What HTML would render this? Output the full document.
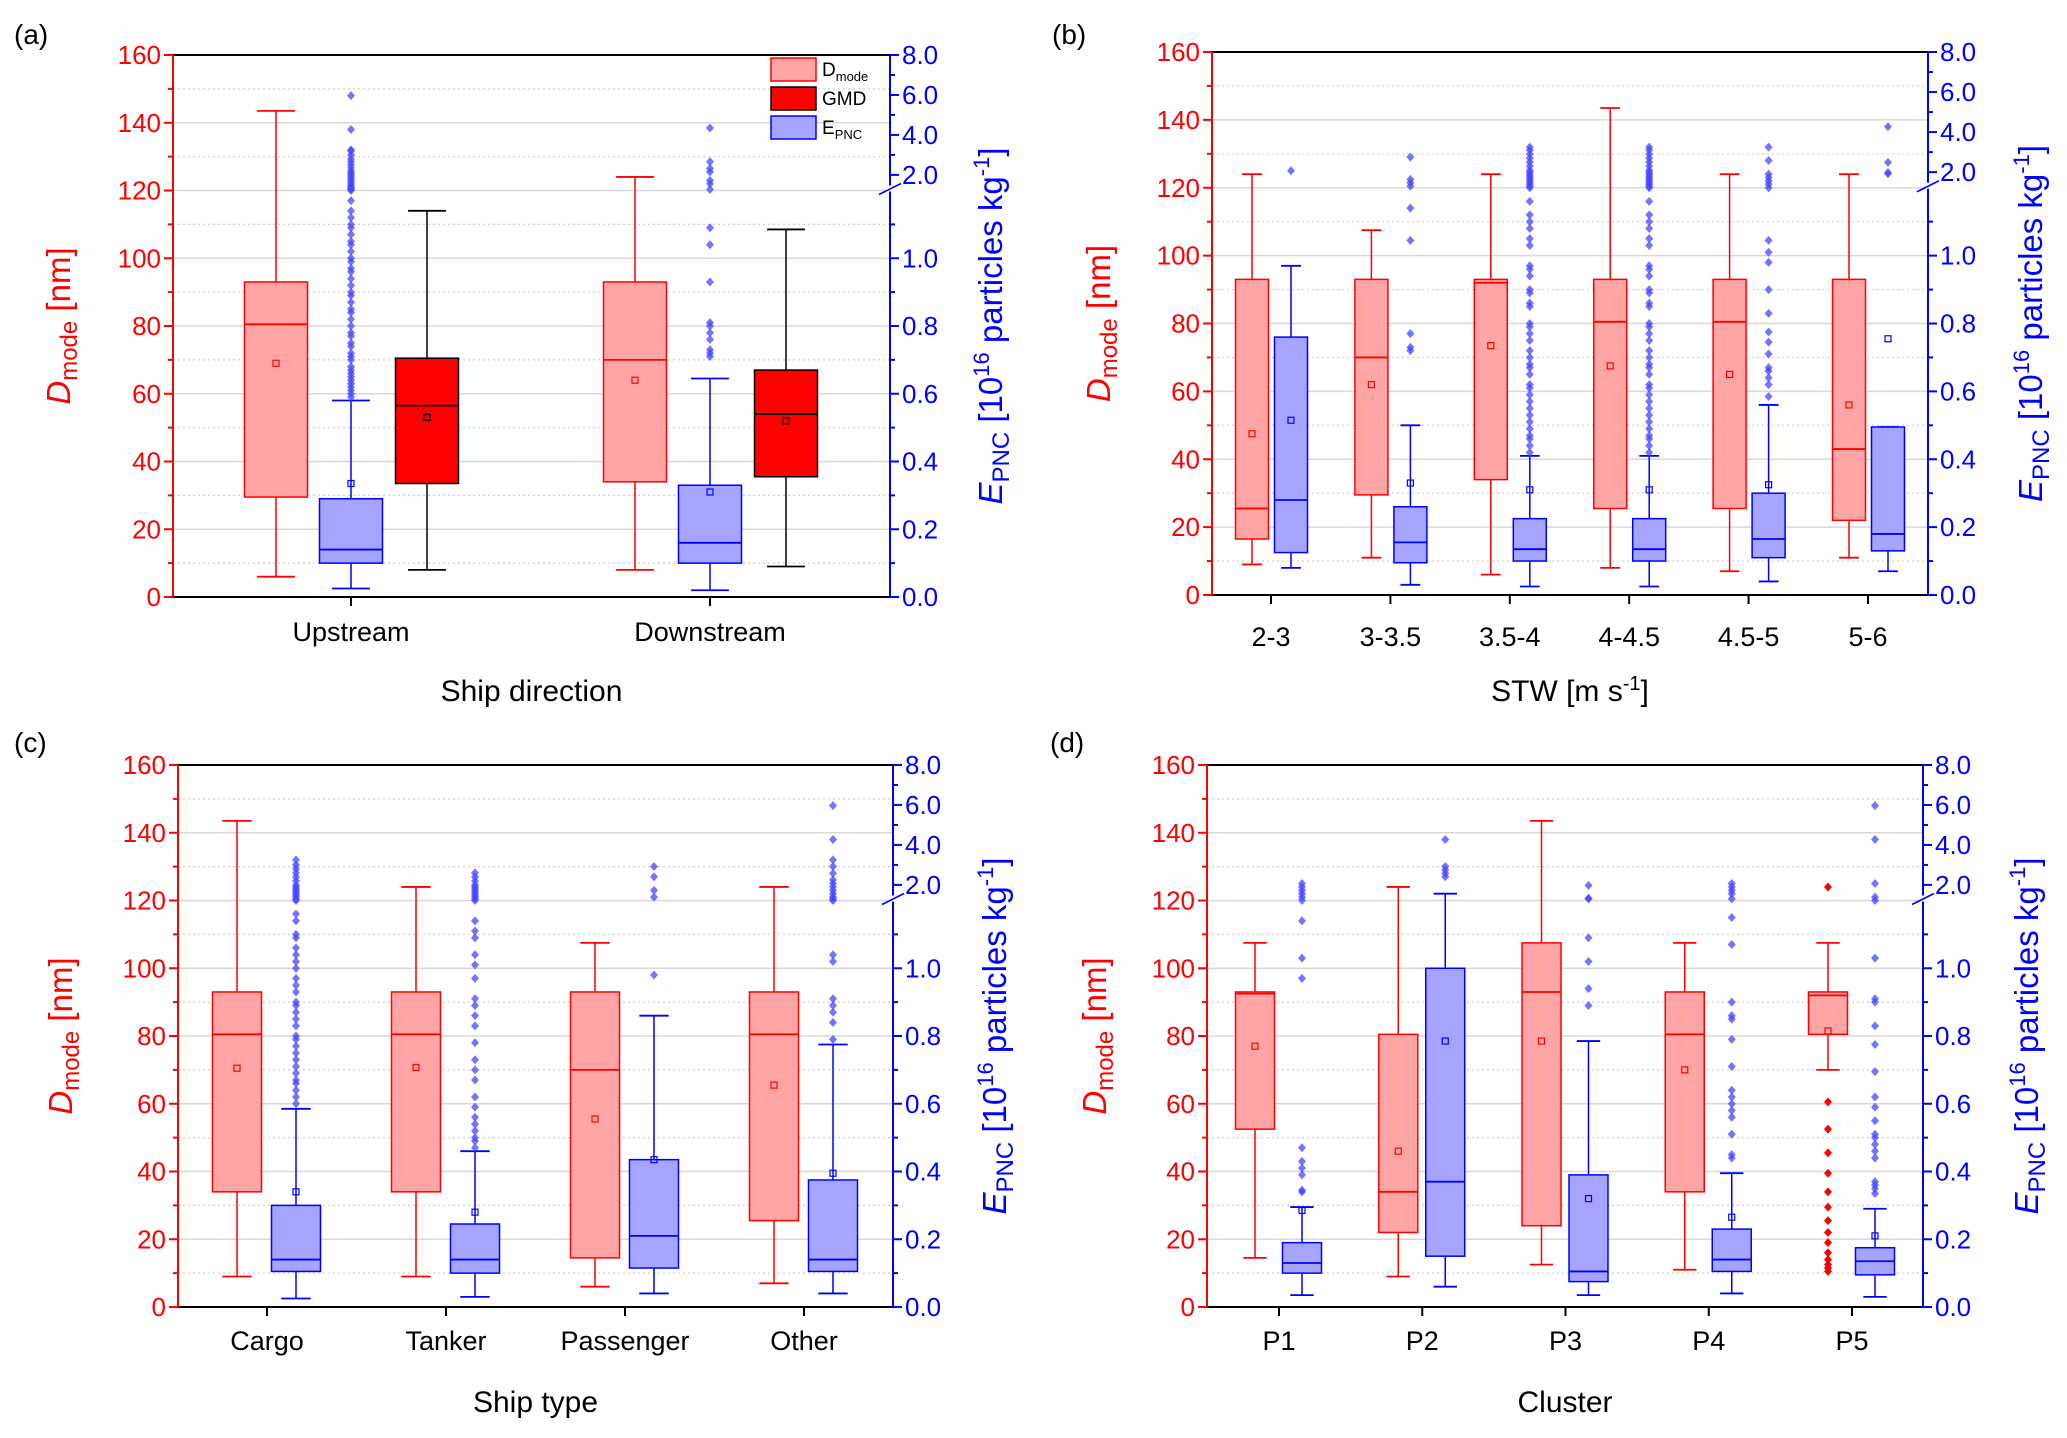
<!DOCTYPE html>
<html><head><meta charset="utf-8">
<style>
html,body{margin:0;padding:0;background:#fff;overflow:hidden;}
svg{display:block;font-family:"Liberation Sans Narrow","Liberation Sans",sans-serif;}
</style></head>
<body>
<svg id="fig" width="2067" height="1438" viewBox="0 0 2067 1438" xmlns="http://www.w3.org/2000/svg"></svg>
<script>
// ---------- DATA ----------
// stats arrays: [lowWhisker, q1, median, q3, highWhisker, mean]
const catsA = ["Upstream","Downstream"];
const dmodeA = [[6,29.5,80.5,93,143.5,69],[8,34,70,93,124,64]];
const gmdA = [[8,33.5,56.5,70.5,114,53],[9,35.5,54,67,108.5,52]];
const epncA = [[0.025,0.10,0.14,0.29,0.58,0.335],[0.02,0.10,0.16,0.33,0.645,0.31]];
const outA = [
 [0.59,0.6,0.61,0.62,0.63,0.64,0.65,0.66,0.67,0.68,0.7,0.71,0.72,0.74,0.75,0.77,0.78,0.8,0.82,0.84,0.85,0.87,0.89,0.9,0.92,0.94,0.96,0.97,0.99,1.0,1.02,1.04,1.05,1.07,1.09,1.1,1.12,1.14,1.17,1.22,1.28,1.35,1.42,1.5,1.6,1.7,1.8,1.9,2.0,2.1,2.2,2.35,2.5,2.65,2.8,3.0,3.2,3.25,4.27,5.97],
 [0.71,0.72,0.73,0.76,0.78,0.80,0.81,0.93,1.04,1.09,1.27,1.56,1.73,2.15,2.32,2.66,4.35]];

const catsB = ["2-3","3-3.5","3.5-4","4-4.5","4.5-5","5-6"];
const dmodeB = [[9,16.5,25.5,93,124,47.5],[11,29.5,70,93,107.5,62],[6,34,92,93,124,73.5],[8,25.5,80.5,93,143.5,67.5],[7,25.5,80.5,93,124,65],[11,22,43,93,124,56]];
const epncB = [[0.08,0.125,0.28,0.76,0.97,0.515],[0.03,0.095,0.155,0.26,0.50,0.33],[0.025,0.10,0.135,0.225,0.41,0.31],[0.025,0.10,0.135,0.225,0.41,0.31],[0.04,0.11,0.165,0.30,0.56,0.325],[0.07,0.13,0.18,0.495,0.495,0.755]];
const denseB = [0.42,0.44,0.46,0.47,0.49,0.51,0.53,0.55,0.57,0.59,0.61,0.62,0.65,0.67,0.68,0.7,0.72,0.75,0.77,0.79,0.8,0.85,0.86,0.89,0.9,0.94,0.96,0.97,1.03,1.05,1.08,1.1,1.12,1.16,1.22,1.3,1.4,1.5,1.6,1.7,1.8,1.9,2.0,2.1,2.3,2.5,2.7,2.9,3.1,3.25];
const outB = [[2.07],[0.72,0.73,0.77,1.045,1.14,1.3,1.47,1.64,2.75],denseB,denseB,[0.585,0.62,0.64,0.66,0.67,0.71,0.745,0.775,0.83,0.90,0.98,1.01,1.045,1.22,1.39,1.56,1.73,1.9,2.58,3.25],[1.92,1.98,2.49,4.27]];

const catsC = ["Cargo","Tanker","Passenger","Other"];
const dmodeC = [[9,34,80.5,93,143.5,70.5],[9,34,80.5,93,124,70.7],[6,14.5,70,93,107.5,55.5],[7,25.5,80.5,93,124,65.5]];
const epncC = [[0.025,0.105,0.14,0.30,0.585,0.34],[0.03,0.10,0.14,0.245,0.46,0.28],[0.04,0.115,0.21,0.435,0.86,0.435],[0.04,0.105,0.14,0.375,0.775,0.395]];
const outC = [
 [0.6,0.62,0.64,0.66,0.67,0.69,0.71,0.73,0.75,0.77,0.79,0.8,0.83,0.85,0.87,0.89,0.9,0.93,0.95,0.97,1.0,1.02,1.04,1.06,1.09,1.1,1.14,1.16,1.22,1.3,1.4,1.5,1.6,1.7,1.8,1.9,2.0,2.2,2.4,2.6,2.8,3.0,3.25],
 [0.47,0.49,0.5,0.52,0.54,0.56,0.59,0.62,0.67,0.7,0.73,0.78,0.83,0.86,0.89,0.91,0.97,1.01,1.04,1.09,1.11,1.14,1.22,1.3,1.4,1.5,1.6,1.7,1.8,1.9,2.0,2.2,2.4,2.6],
 [0.98,1.39,1.73,2.41,2.92],
 [0.79,0.84,0.87,0.89,0.91,1.02,1.04,1.22,1.3,1.4,1.56,1.73,1.9,2.07,2.25,2.58,2.92,3.25,4.27,5.97]];

const catsD = ["P1","P2","P3","P4","P5"];
const dmodeD = [[14.5,52.5,92.5,93,107.5,77],[9,22,34,80.5,124,46],[12.5,24,93,107.5,143.5,78.5],[11,34,80.5,93,107.5,70],[70,80.5,92,93,107.5,81.5]];
const dmodeOutD = [[],[],[],[],[10.5,11.5,12.5,14,16,19,22,25.5,29.5,34,39.5,45.5,52.5,60.5,124]];
const epncD = [[0.035,0.10,0.13,0.19,0.295,0.285],[0.06,0.15,0.37,1.0,1.56,0.785],[0.035,0.075,0.105,0.39,0.785,0.32],[0.04,0.105,0.14,0.23,0.395,0.265],[0.03,0.095,0.135,0.175,0.29,0.21]];
const outD = [
 [0.34,0.345,0.39,0.41,0.43,0.47,0.97,1.03,1.14,1.22,1.39,1.56,1.73,1.9,2.07],
 [2.41,2.58,2.75,2.92,4.27],
 [0.89,0.94,1.02,1.09,1.3,1.33,1.98],
 [0.44,0.45,0.51,0.56,0.58,0.60,0.62,0.64,0.71,0.79,0.85,0.86,0.90,1.07,1.15,1.3,1.56,1.73,1.9,2.07],
 [0.335,0.35,0.36,0.37,0.44,0.46,0.48,0.50,0.51,0.55,0.59,0.62,0.695,0.775,0.83,0.90,0.91,1.03,1.22,1.39,2.07,4.27,5.97]];

// ---------- DRAWING ----------
const NS="http://www.w3.org/2000/svg";
const svg=document.getElementById('fig');
function mk(tag,attrs,parent){const e=document.createElementNS(NS,tag);for(const k in attrs)e.setAttribute(k,attrs[k]);(parent||svg).appendChild(e);return e;}
function dOfE(e){return e<=1.2? e*100 : 124.6+(e-2)*5.9;}

function panel(P){
  const g=mk('g',{});
  
  
  const yD=d=>P.bottom-d*(P.bottom-P.top)/160;
  const n=P.cats.length;
  for(let d=10;d<160;d+=10){
    const major=d%20===0;
    const l=mk('line',{x1:P.left,x2:P.right,y1:yD(d),y2:yD(d),stroke:major?'#d8d8d8':'#cfcfcf','stroke-width':major?1.5:1.2,'stroke-dasharray':major?'none':'2,3'},g);
    
    
  }
  const cx=i=>P.x0+i*P.step;
  function box(stats,xc,w,fill,stroke,medStroke,name){
    const bg=mk('g',{},g);
    
    
    const [lo,q1,md,q3,hi,mn]=stats;
    const cw=w*0.6;
    mk('line',{x1:xc,x2:xc,y1:yD(lo),y2:yD(q1),stroke:stroke,'stroke-width':1.5},bg);
    mk('line',{x1:xc,x2:xc,y1:yD(q3),y2:yD(hi),stroke:stroke,'stroke-width':1.5},bg);
    mk('line',{x1:xc-cw/2,x2:xc+cw/2,y1:yD(lo),y2:yD(lo),stroke:stroke,'stroke-width':1.8},bg);
    mk('line',{x1:xc-cw/2,x2:xc+cw/2,y1:yD(hi),y2:yD(hi),stroke:stroke,'stroke-width':1.8},bg);
    mk('rect',{x:xc-w/2,y:yD(q3),width:w,height:yD(q1)-yD(q3),fill:fill,stroke:stroke,'stroke-width':1.5},bg);
    mk('line',{x1:xc-w/2,x2:xc+w/2,y1:yD(md),y2:yD(md),stroke:medStroke,'stroke-width':1.8},bg);
    mk('rect',{x:xc-3,y:yD(mn)-3,width:6,height:6,fill:'none',stroke:medStroke,'stroke-width':1.2},bg);
  }
  function outs(vals,xc,fill,name){
    vals.forEach(v=>{const y=yD(v);
      const p=mk('path',{d:`M${xc},${y-4.5} L${xc+4},${y} L${xc},${y+4.5} L${xc-4},${y} Z`,fill:fill},g);
      
      });
  }
  for(let i=0;i<n;i++){
    const c=cx(i);
    box(P.dmode[i],c+P.offP,P.w,'#ffa5a5','#ff0000','#ff0000','dmode-box-'+P.cats[i]);
    if(P.dmodeOut) outs(P.dmodeOut[i],c+P.offP,'#ff0000','dmode-outlier');
    const es=P.epnc[i].map(dOfE);
    box(es,c+P.offB,P.w,'#a5a5ff','#0000ff','#0000ff','epnc-box-'+P.cats[i]);
    outs(P.out[i].map(dOfE),c+P.offB,'rgba(70,70,255,0.75)','epnc-outlier');
    if(P.gmd) box(P.gmd[i],c+P.offG,P.w,'#ff0000','#000000','#000000','gmd-box-'+P.cats[i]);
  }
  mk('line',{x1:P.left,x2:P.right,y1:P.top,y2:P.top,stroke:'#000','stroke-width':2},g);
  mk('line',{x1:P.left,x2:P.right,y1:P.bottom,y2:P.bottom,stroke:'#000','stroke-width':2},g);
  const la=mk('line',{x1:P.left,x2:P.left,y1:P.top,y2:P.bottom,stroke:'#ff0000','stroke-width':2},g);
  
  const ra=mk('line',{x1:P.right,x2:P.right,y1:P.top,y2:P.bottom,stroke:'#0000ff','stroke-width':2},g);
  
  for(let d=0;d<=160;d+=10){
    const major=d%20===0;
    mk('line',{x1:P.left,x2:P.left-(major?9:5),y1:yD(d),y2:yD(d),stroke:'#ff0000','stroke-width':2},g);
    if(major){const t=mk('text',{x:P.left-12,y:yD(d)+9,'text-anchor':'end','font-size':26,fill:'#ff0000'},g);t.textContent=d;
      }
  }
  const rMaj=[0,0.2,0.4,0.6,0.8,1.0,2.0,4.0,6.0,8.0];
  const rMin=[0.1,0.3,0.5,0.7,0.9,1.1,3.0,5.0,7.0];
  rMaj.forEach(e=>{const y=yD(dOfE(e));
    mk('line',{x1:P.right,x2:P.right+9,y1:y,y2:y,stroke:'#0000ff','stroke-width':2},g);
    const t=mk('text',{x:P.right+12,y:y+9,'font-size':26,fill:'#0000ff'},g);t.textContent=e.toFixed(1);
    });
  rMin.forEach(e=>{const y=yD(dOfE(e));mk('line',{x1:P.right,x2:P.right+5,y1:y,y2:y,stroke:'#0000ff','stroke-width':2},g);});
  const yb=yD(120);
  mk('rect',{x:P.right-3,y:yb-5,width:6,height:6,fill:'#fff'},g);
  mk('line',{x1:P.right-11,x2:P.right+11,y1:yb+4,y2:yb-7,stroke:'#0000ff','stroke-width':1.6},g);
  for(let i=0;i<n;i++){
    mk('line',{x1:cx(i),x2:cx(i),y1:P.bottom,y2:P.bottom+9,stroke:'#000','stroke-width':2},g);
    const t=mk('text',{x:cx(i),y:P.xlabY,'text-anchor':'middle','font-size':27,fill:'#000'},g);t.textContent=P.cats[i];
    
  }
  const xt=mk('text',{x:(P.left+P.right)/2,y:P.xtitY,'text-anchor':'middle','font-size':30,fill:'#000'},g);
  xt.innerHTML=P.xtitle;
  
  const ym=(P.top+P.bottom)/2;
  const lt=mk('text',{x:0,y:0,transform:`translate(${P.ltX},${ym}) rotate(-90)`,'text-anchor':'middle','font-size':33,fill:'#ff0000'},g);
  lt.innerHTML='<tspan font-style="italic">D</tspan><tspan font-size="24" dy="7">mode</tspan><tspan dy="-7"> [nm]</tspan>';
  
  const rt=mk('text',{x:0,y:0,transform:`translate(${P.rtX},${ym}) rotate(-90)`,'text-anchor':'middle','font-size':33,fill:'#0000ff'},g);
  rt.innerHTML='<tspan font-style="italic">E</tspan><tspan font-size="24" dy="7">PNC</tspan><tspan dy="-7"> [10</tspan><tspan font-size="22" dy="-13">16</tspan><tspan dy="13"> particles kg</tspan><tspan font-size="22" dy="-13">-1</tspan><tspan dy="13">]</tspan>';
  
  const pl=mk('text',{x:P.letX,y:P.letY,'font-size':28,fill:'#000',"font-family":"Liberation Sans, sans-serif"},g);pl.textContent='('+P.id+')';
  
  return g;
}

panel({id:'a',left:173,right:890,top:55,bottom:597,x0:351,step:359,cats:catsA,dmode:dmodeA,epnc:epncA,out:outA,gmd:gmdA,
  offP:-75,offB:0,offG:76,w:63,xlabY:641,xtitY:701,xtitle:'Ship direction',ltX:70,rtX:1002,letX:14,letY:44});
panel({id:'b',left:1212,right:1928,top:52,bottom:595,x0:1271,step:119.4,cats:catsB,dmode:dmodeB,epnc:epncB,out:outB,
  offP:-19,offB:20,w:33,xlabY:646,xtitY:701,xtitle:'STW [m s<tspan font-size="20" dy="-11">-1</tspan><tspan dy="11">]</tspan>',ltX:1110,rtX:2042,letX:1052,letY:44});
panel({id:'c',left:178,right:893,top:765,bottom:1307,x0:267,step:179,cats:catsC,dmode:dmodeC,epnc:epncC,out:outC,
  offP:-30,offB:29,w:49,xlabY:1350,xtitY:1412,xtitle:'Ship type',ltX:72,rtX:1006,letX:14,letY:752});
panel({id:'d',left:1207,right:1923,top:765,bottom:1307,x0:1279,step:143.25,cats:catsD,dmode:dmodeD,dmodeOut:dmodeOutD,epnc:epncD,out:outD,
  offP:-24,offB:23,w:39,xlabY:1350,xtitY:1412,xtitle:'Cluster',ltX:1106,rtX:2038,letX:1050,letY:752});

const lg=mk('g',{});


const legItems=[['#ffa5a5','#ff0000','D','mode'],['#ff0000','#000000','GMD',''],['#a5a5ff','#0000ff','E','PNC']];
legItems.forEach((it,i)=>{
  const y=58+i*29;
  const r=mk('rect',{x:771,y:y,width:45,height:23,fill:it[0],stroke:it[1],'stroke-width':1.5},lg);
  
  const t=mk('text',{x:822,y:y+18,'font-size':19,fill:'#000'},lg);
  t.innerHTML=it[2]+(it[3]?'<tspan font-size="13" dy="5">'+it[3]+'</tspan>':'');
  
});
</script>
</body></html>
